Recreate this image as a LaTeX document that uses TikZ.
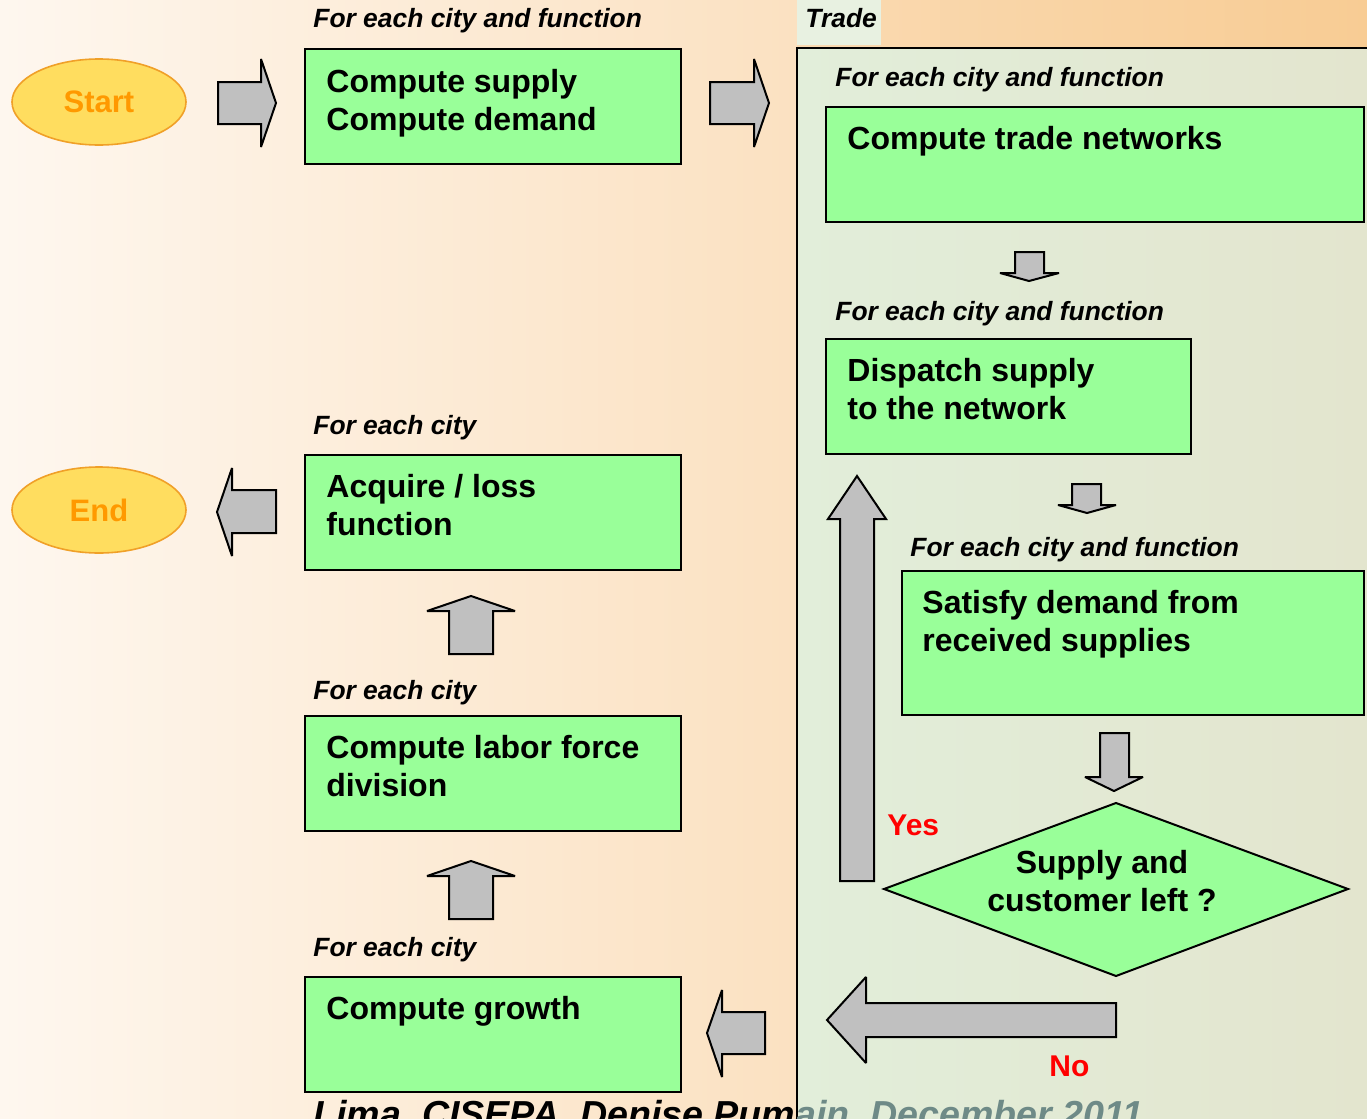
\documentclass[tikz,border=0pt]{standalone}
\usepackage{fontspec}
\setmainfont{Liberation Sans}
\usetikzlibrary{fit,shapes.geometric}
\definecolor{bgA}{RGB}{254,247,239}
\definecolor{bgB}{RGB}{251,225,193}
\definecolor{bgC}{RGB}{250,218,178}
\definecolor{bgD}{RGB}{248,204,148}
\definecolor{panA}{RGB}{226,238,218}
\definecolor{panB}{RGB}{227,229,206}
\definecolor{boxgreen}{RGB}{153,255,153}
\definecolor{blockgrey}{RGB}{192,192,192}
\definecolor{ellfill}{RGB}{255,221,95}
\definecolor{ellline}{RGB}{240,160,40}
\definecolor{elltext}{RGB}{255,153,0}
\definecolor{foot}{RGB}{110,138,135}
\tikzset{
  box/.style={draw=black, line width=1pt, fill=boxgreen, inner sep=0pt},
  blk/.style={draw=black, line width=1pt, fill=blockgrey, line join=miter, miter limit=2.5},
  btext/.style={anchor=base west, inner sep=0pt, font=\bfseries\fontsize{16}{19}\selectfont},
  lab/.style={anchor=base west, inner sep=0pt, font=\bfseries\itshape\fontsize{13.2}{15}\selectfont},
  term/.style={ellipse, draw=ellline, line width=0.8pt, fill=ellfill, minimum width=87pt, minimum height=43pt, inner sep=0pt, text=elltext, font=\bfseries\fontsize{15.5}{18}\selectfont},
  yn/.style={anchor=base west, inner sep=0pt, text=red, font=\bfseries\fontsize{15}{18}\selectfont},
  foottext/.style={anchor=base west, inner sep=0pt, font=\bfseries\itshape\fontsize{18.8}{22}\selectfont}
}
\begin{document}
\begin{tikzpicture}[x=0.5pt,y=-0.5pt]
\useasboundingbox (0,0) rectangle (1367,1119);
\clip (0,0) rectangle (1367,1119);
% background
\shade[left color=bgA, right color=bgB] (0,0) rectangle (797,1119);
\shade[left color=bgC, right color=bgD] (797,0) rectangle (1367,48);
\fill[panA!80!white] (797,0) rectangle (881,45);
\node[lab] (tradelab) at (805,27) {Trade};
% trade panel
\shade[left color=panA, right color=panB] (797,48) rectangle (1367,1119);
\draw[line width=1pt] (1370,48) -- (797,48) -- (797,1122);
% footer
\begin{scope}
  \clip (0,1080) rectangle (797,1119);
  \node[foottext, text=black] (footA) at (313,1127) {Lima, CISEPA, Denise Pumain, December 2011};
\end{scope}
\begin{scope}
  \clip (797,1080) rectangle (1367,1119);
  \node[foottext, text=foot] (footB) at (313,1127) {Lima, CISEPA, Denise Pumain, December 2011};
\end{scope}
% terminals
\node[term] (start) at (99,102) {Start};
\node[term] (end) at (99,510) {End};
% left column boxes
\node[box, fit={(305,49) (681,164)}] (supply) {};
\node[lab] (l1) at (313,27) {For each city and function};
\node[btext] (t1a) at (326,92) {Compute supply};
\node[btext] (t1b) at (326,130) {Compute demand};

\node[box, fit={(305,455) (681,570)}] (acquire) {};
\node[lab] (l2) at (313,434) {For each city};
\node[btext] (t2a) at (326,497) {Acquire / loss};
\node[btext] (t2b) at (326,535) {function};

\node[box, fit={(305,716) (681,831)}] (labor) {};
\node[lab] (l3) at (313,699) {For each city};
\node[btext] (t3a) at (326,758) {Compute labor force};
\node[btext] (t3b) at (326,796) {division};

\node[box, fit={(305,977) (681,1092)}] (growth) {};
\node[lab] (l4) at (313,956) {For each city};
\node[btext] (t4a) at (326,1019) {Compute growth};
% trade boxes
\node[box, fit={(826,107) (1364,222)}] (trade) {};
\node[lab] (l5) at (835,86) {For each city and function};
\node[btext] (t5a) at (847,149) {Compute trade networks};

\node[box, fit={(826,339) (1191,454)}] (dispatch) {};
\node[lab] (l6) at (835,320) {For each city and function};
\node[btext] (t6a) at (847,381) {Dispatch supply};
\node[btext] (t6b) at (847,419) {to the network};

\node[box, fit={(902,571) (1364,715)}] (satisfy) {};
\node[lab] (l7) at (910,556) {For each city and function};
\node[btext] (t7a) at (922,613) {Satisfy demand from};
\node[btext] (t7b) at (922,651) {received supplies};

% decision diamond
\coordinate (dec) at (1116,889);
\draw[line width=1pt, fill=boxgreen] (884,889) -- (1116,803) -- (1348,889) -- (1116,976) -- cycle;
\node[btext, anchor=base] (t8a) at (1102,873) {Supply and};
\node[btext, anchor=base] (t8b) at (1102,911) {customer left ?};
% block arrows
\draw[blk] (218,82) -- (261,82) -- (261,59) -- (276,103) -- (261,147) -- (261,124) -- (218,124) -- cycle;
\draw[blk] (710,82) -- (754,82) -- (754,59) -- (769,103) -- (754,147) -- (754,124) -- (710,124) -- cycle;
\draw[blk] (276,490) -- (232,490) -- (232,468) -- (217,512) -- (232,556) -- (232,533) -- (276,533) -- cycle;
\draw[blk] (765,1012) -- (722,1012) -- (722,990) -- (707,1033) -- (722,1077) -- (722,1054) -- (765,1054) -- cycle;
\draw[blk] (449,654) -- (449,611) -- (427,611) -- (471,596) -- (515,611) -- (493,611) -- (493,654) -- cycle;
\draw[blk] (449,919) -- (449,876) -- (427,876) -- (471,861) -- (515,876) -- (493,876) -- (493,919) -- cycle;
\draw[blk] (1015,252) -- (1044,252) -- (1044,273) -- (1059,273) -- (1029,281) -- (1000,273) -- (1015,273) -- cycle;
\draw[blk] (1072,484) -- (1101,484) -- (1101,505) -- (1116,505) -- (1087,513) -- (1058,505) -- (1072,505) -- cycle;
\draw[blk] (1100,733) -- (1129,733) -- (1129,777) -- (1143,777) -- (1114,791) -- (1085,777) -- (1100,777) -- cycle;
\draw[blk] (840,881) -- (840,519) -- (828,519) -- (857,476) -- (886,519) -- (874,519) -- (874,881) -- cycle;
\draw[blk] (1116,1003) -- (866,1003) -- (866,977) -- (827,1020) -- (866,1063) -- (866,1037) -- (1116,1037) -- cycle;
\node[yn] (yes) at (887,835) {Yes};
\node[yn] (no) at (1049,1076) {No};
\end{tikzpicture}
\end{document}
